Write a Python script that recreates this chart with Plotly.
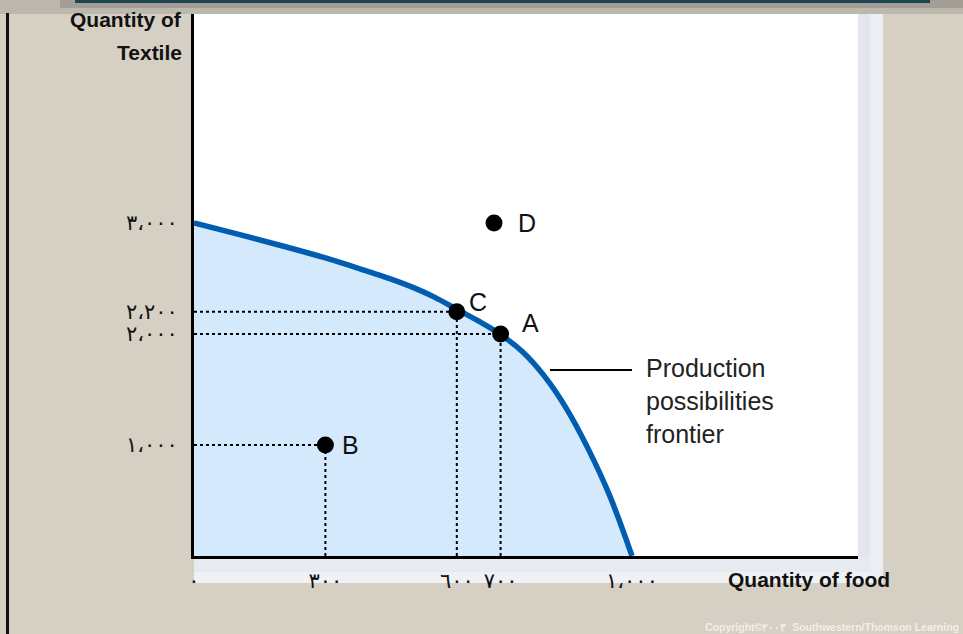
import plotly.graph_objects as go

# ---- data ----
food_curve = [0, 100, 200, 300, 400, 450, 500, 550, 600, 650, 700, 750, 800, 850, 900, 950, 1000]
textile_curve = [3000, 2900, 2795, 2685, 2560, 2495, 2420, 2330, 2222, 2115, 1995,
                 1840, 1620, 1330, 965, 535, 0]

point_names = ["A", "B", "C", "D"]
point_food = [700, 300, 600, 685]
point_textile = [2000, 1000, 2200, 3000]
guide_points = ["A", "B", "C"]

x_tickvals = [0, 300, 600, 700, 1000]
x_ticktext = ["٠", "٣٠٠", "٦٠٠", "٧٠٠", "١،٠٠٠"]
y_tickvals = [1000, 2000, 2200, 3000]
y_ticktext = ["١،٠٠٠", "٢،٠٠٠", "٢،٢٠٠", "٣،٠٠٠"]

W, H = 963, 634
L, R, T, B = 194, 105, 14, 78
PW, PH = W - L - R, H - T - B


def px(p):
    return (p - L) / PW


def py(p):
    return (H - B - p) / PH


fig = go.Figure()

# shaded feasible region
fig.add_trace(go.Scatter(x=food_curve, y=textile_curve, mode="lines",
                         line=dict(color="rgba(0,0,0,0)", width=0, shape="spline"),
                         fill="tozeroy", fillcolor="#d5e9fc", hoverinfo="skip",
                         showlegend=False))

# dotted guide lines
for name, fx, ty in zip(point_names, point_food, point_textile):
    if name not in guide_points:
        continue
    fig.add_trace(go.Scatter(x=[0, fx], y=[ty, ty], mode="lines",
                             line=dict(color="black", width=2, dash="dot"),
                             showlegend=False, hoverinfo="skip"))
    fig.add_trace(go.Scatter(x=[fx, fx], y=[0, ty], mode="lines",
                             line=dict(color="black", width=2, dash="dot"),
                             showlegend=False, hoverinfo="skip"))

# frontier
fig.add_trace(go.Scatter(x=food_curve, y=textile_curve, mode="lines",
                         line=dict(color="#005db0", width=5.5, shape="spline"),
                         showlegend=False, hoverinfo="skip"))

# points
fig.add_trace(go.Scatter(x=point_food, y=point_textile, mode="markers",
                         marker=dict(color="black", size=17),
                         showlegend=False, hoverinfo="skip"))

label_shift = {"A": (19, 11), "B": (15, 0), "C": (10, 10), "D": (22, 0)}
for name, fx, ty in zip(point_names, point_food, point_textile):
    dx, dy = label_shift[name]
    fig.add_annotation(x=fx, y=ty, text=name, showarrow=False, xanchor="left",
                       yanchor="middle", xshift=dx, yshift=dy,
                       font=dict(family="Liberation Sans, Arial", size=25, color="#111"))

# Production possibilities frontier label
fig.add_shape(type="line", xref="paper", yref="paper", x0=px(550), x1=px(632),
              y0=py(370), y1=py(370), line=dict(color="black", width=2))
for txt, yy in [("Production", 368), ("possibilities", 401), ("frontier", 434)]:
    fig.add_annotation(xref="paper", yref="paper", x=px(644), y=py(yy), text=txt,
                       showarrow=False, xanchor="left", yanchor="middle",
                       font=dict(family="Liberation Sans, Arial", size=25, color="#222"))

# axis titles
for txt, yy in [("Quantity of", 20), ("Textile", 52)]:
    fig.add_annotation(xref="paper", yref="paper", x=px(184), y=py(yy),
                       text="<b>" + txt + "</b>", showarrow=False,
                       xanchor="right", yanchor="middle",
                       font=dict(family="Liberation Sans, Arial", size=21, color="#111"))
fig.add_annotation(xref="paper", yref="paper", x=px(726), y=py(579),
                   text="<b>Quantity of food</b>", showarrow=False,
                   xanchor="left", yanchor="middle",
                   font=dict(family="Liberation Sans, Arial", size=21, color="#111"))

# copyright
fig.add_annotation(xref="paper", yref="paper", x=px(961), y=py(627),
                   text="<b>Copyright©٢٠٠٣  Southwestern/Thomson Learning</b>",
                   showarrow=False, xanchor="right", yanchor="middle",
                   font=dict(family="Liberation Sans, Arial", size=10.5, color="#f2f0ea"))

# background decoration
shapes = [
    dict(x0=858, x1=870, y0=14, y1=583, color="#e3e6ef"),
    dict(x0=870, x1=883, y0=14, y1=583, color="#eceef3"),
    dict(x0=194, x1=870, y0=556, y1=572, color="#e7eaf1"),
    dict(x0=194, x1=870, y0=572, y1=583, color="#eff1f5"),
    dict(x0=0, x1=963, y0=0, y1=14, color="#bdb8ae"),
    dict(x0=60, x1=963, y0=0, y1=8, color="#a39e95"),
    dict(x0=75, x1=930, y0=0, y1=3, color="#1d4450"),
    dict(x0=6, x1=9, y0=13, y1=634, color="#111111"),
]
for s in shapes:
    fig.add_shape(type="rect", xref="paper", yref="paper", layer="below",
                  x0=px(s["x0"]), x1=px(s["x1"]), y0=py(s["y1"]), y1=py(s["y0"]),
                  fillcolor=s["color"], line=dict(width=0))

fig.update_xaxes(range=[0, 1516], showgrid=False, zeroline=False,
                 showline=True, linecolor="black", linewidth=2.5,
                 tickvals=x_tickvals, ticktext=x_ticktext, ticks="",
                 ticklabelstandoff=4,
                 tickfont=dict(family="DejaVu Sans", size=21, color="#111"))
fig.update_yaxes(range=[0, 4883], showgrid=False, zeroline=False,
                 showline=True, linecolor="black", linewidth=3,
                 tickvals=y_tickvals, ticktext=y_ticktext, ticks="",
                 ticklabelstandoff=9,
                 tickfont=dict(family="DejaVu Sans", size=21, color="#111"))

fig.update_layout(width=W, height=H, autosize=False,
                  margin=dict(l=L, r=R, t=T, b=B, pad=0),
                  paper_bgcolor="#d5cfc4", plot_bgcolor="white",
                  showlegend=False)

fig.write_html("out.html", config={"displayModeBar": False},
               post_script="document.body.style.margin='0';document.body.style.overflow='hidden';")
